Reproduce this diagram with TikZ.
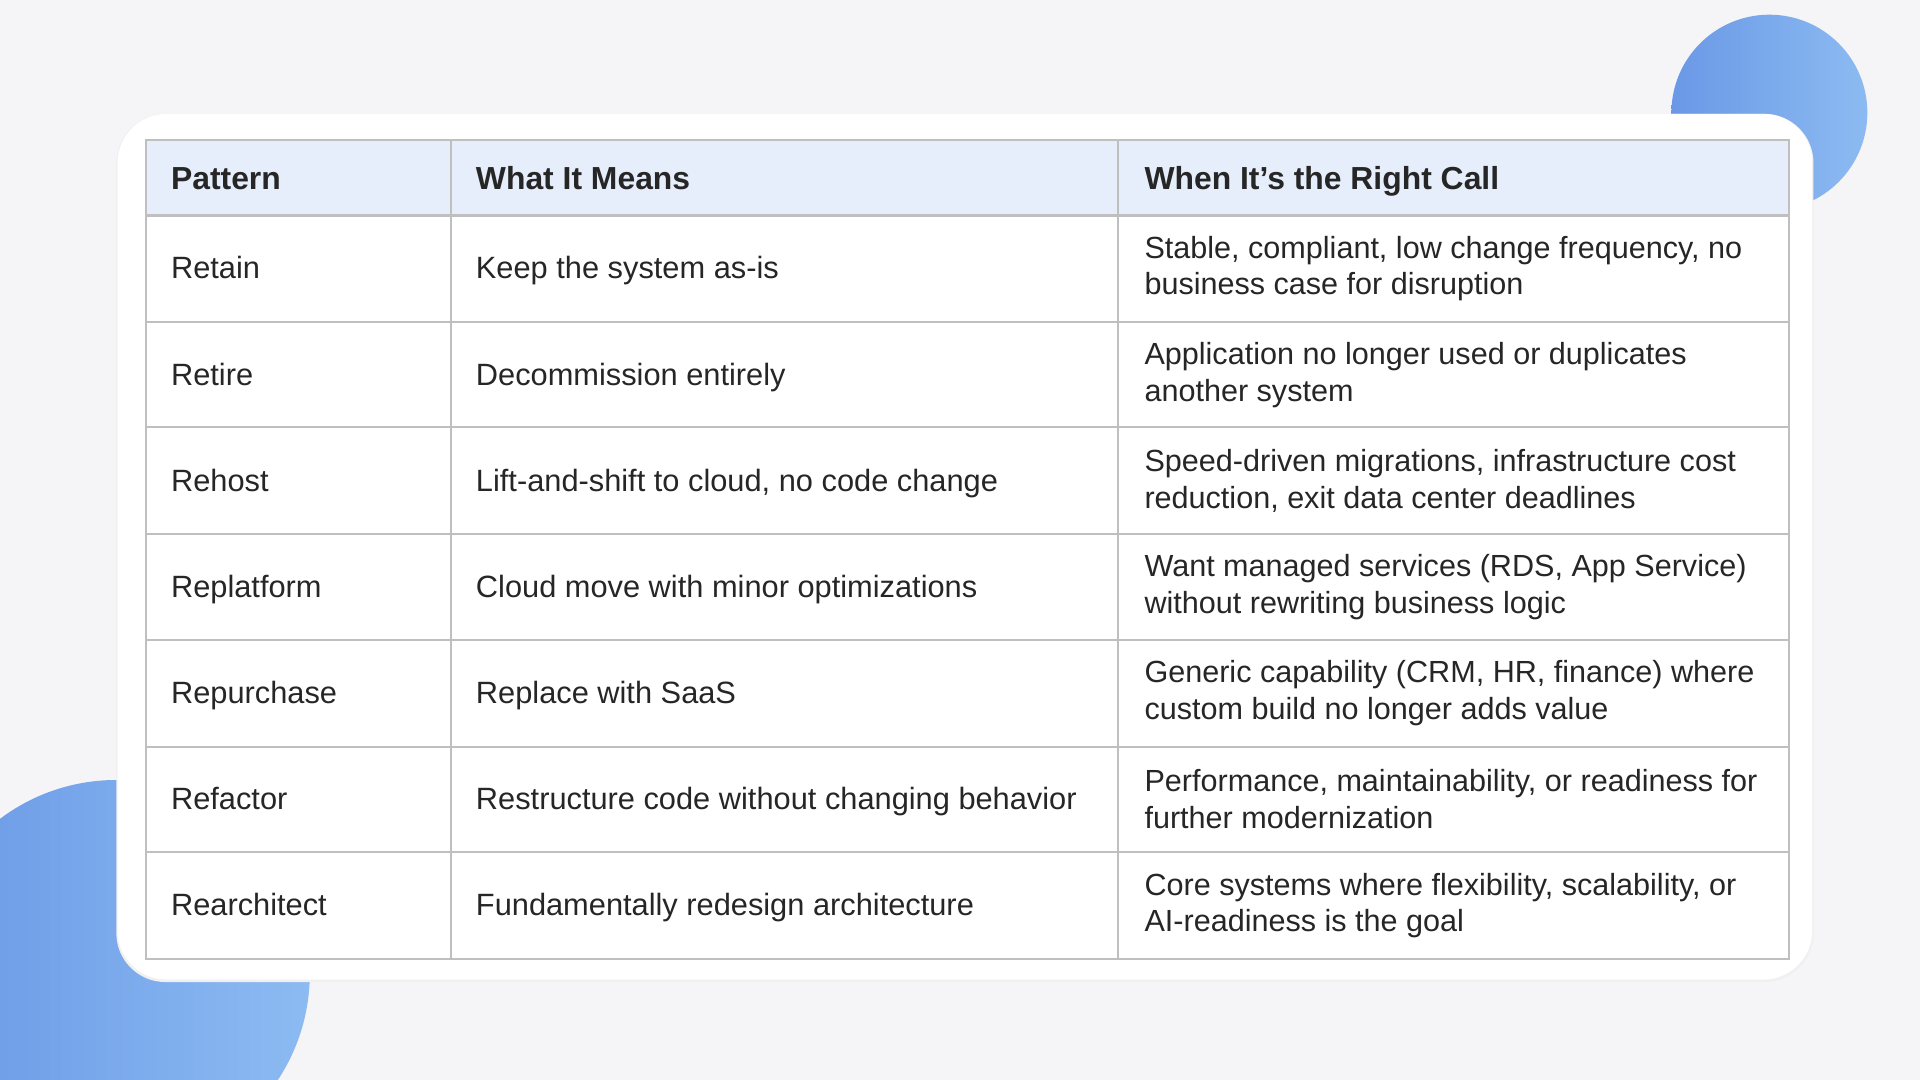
\documentclass[tikz,border=0pt]{standalone}
\usepackage{fontspec}
\setmainfont{Liberation Sans}
\begin{document}
\begin{tikzpicture}[x=0.01cm,y=-0.01cm,
  cell/.style={anchor=base west,inner sep=0pt,font=\fontsize{7.15pt}{8.6pt}\selectfont,text=black!85},
  wcell/.style={anchor=west,inner sep=0pt,align=left,font=\fontsize{7.1pt}{8.55pt}\selectfont,text=black!85},
  head/.style={cell,font=\fontsize{7.4pt}{8.6pt}\selectfont\bfseries},
  grid/.style={draw=black!25,line width=0.5pt}]
\definecolor{bg}{HTML}{F5F4F6}
\definecolor{hd}{HTML}{E6EEFB}
\definecolor{bA}{HTML}{6A98E6}
\definecolor{bB}{HTML}{8CBBF2}
\fill[bg] (0,0) rectangle (1568,882);
\useasboundingbox (0,0) rectangle (1568,882);
\shade[left color=bA,right color=bB] (1445,92) circle (80);
\begin{scope}
\clip (0,0) rectangle (1568,882);
\shade[left color=bA,right color=bB] (95,795) circle (158);
\end{scope}
\fill[black!6,rounded corners=0.4cm] (95,93) rectangle (1481,802);
\fill[white,rounded corners=0.4cm] (96,93) rectangle (1480,800);
\fill[hd] (119,114) rectangle (1461,176);
\foreach \y in {176,263,349,436,523,610,696} \draw[grid] (119,\y) -- (1461,\y);
\draw[grid] (119,114) rectangle (1461,783);
\draw[grid] (368,114) -- (368,783);
\draw[grid] (913,114) -- (913,783);
\node[head] (h1) at (139,155) {Pattern};
\node[head] (h2) at (388,155) {What It Means};
\node[head] (h3) at (934,155) {When It’s the Right Call};
\foreach \i/\a/\b/\c in {
 1/Retain/Keep the system as-is/{Stable, compliant, low change frequency, no\\business case for disruption},
 2/Retire/Decommission entirely/{Application no longer used or duplicates\\another system},
 3/Rehost/{Lift-and-shift to cloud, no code change}/{Speed-driven migrations, infrastructure cost\\reduction, exit data center deadlines},
 4/Replatform/Cloud move with minor optimizations/{Want managed services (RDS, App Service)\\without rewriting business logic},
 5/Repurchase/Replace with SaaS/{Generic capability (CRM, HR, finance) where\\custom build no longer adds value},
 6/Refactor/Restructure code without changing behavior/{Performance, maintainability, or readiness for\\further modernization},
 7/Rearchitect/Fundamentally redesign architecture/{Core systems where flexibility, scalability, or\\AI-readiness is the goal}}{
 \pgfmathsetmacro{\yy}{176+86.7*(\i-1)+43.3}
 \pgfmathsetmacro{\yb}{\yy+8.5}
 \node[cell] (p\i) at (139,\yb) {\a};
 \node[cell] (m\i) at (388,\yb) {\b};
 \node[wcell] (w\i) at (934,\yy) {\c};
}
\end{tikzpicture}
\end{document}
